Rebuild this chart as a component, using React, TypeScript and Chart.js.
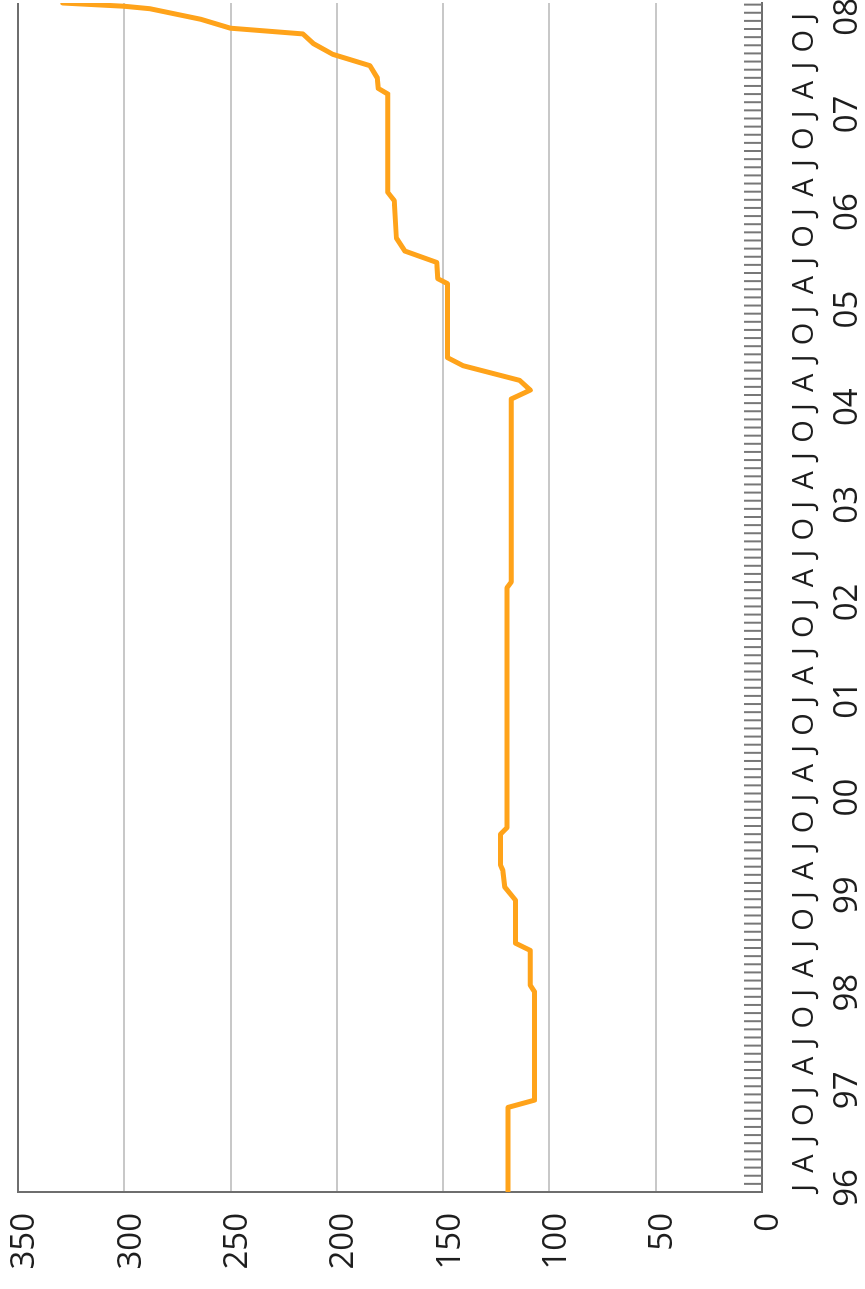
import { useEffect, useRef } from 'react';
import { Chart, registerables } from 'chart.js';

Chart.register(...registerables);

// Month index counted from January 1996 (0 = start of Jan 1996)
const months = [
  0, 10.4, 11.3, 24.6, 25.4, 29.7, 30.6, 35.9, 37.5, 39.6, 40.2, 44.0, 44.8,
  74.3, 75.0, 97.5, 98.6, 99.8, 101.6, 102.6, 111.7, 112.3, 114.3, 115.7,
  117.3, 121.9, 122.9, 135.0, 135.7, 137.0, 138.5, 139.9, 141.2, 142.4,
  143.1, 144.2, 145.5, 145.8, 146.2,
];
const values = [
  119.5, 119.5, 107, 107, 109, 109, 116, 116, 121, 122, 123, 123, 120,
  120, 118, 118, 109, 114, 140.6, 148, 148, 152.5, 153, 168,
  172, 173, 176, 176, 180.5, 181, 184.5, 202, 211, 216,
  250, 264, 288, 300, 329,
];
const yearLabels = ['96', '97', '98', '99', '00', '01', '02', '03', '04', '05', '06', '07', '08'];
const quarterLetters = ['J', 'A', 'J', 'O'];
const valueMin = 0;
const valueMax = 350;
const valueStep = 50;
const monthMax = 146.2;

const W = 1289;
const H = 865;

export default function App() {
  const ref = useRef<HTMLCanvasElement>(null);

  useEffect(() => {
    if (!ref.current) return;
    const timeAxisPlugin = {
      id: 'timeAxis',
      afterDraw(chart: any) {
        const { ctx, chartArea, scales } = chart;
        const xs = scales.x;
        ctx.save();
        ctx.strokeStyle = '#777777';
        ctx.lineWidth = 2;
        for (let m = 1; m <= xs.max; m++) {
          const px = xs.getPixelForValue(m);
          ctx.beginPath();
          ctx.moveTo(px, chartArea.bottom);
          ctx.lineTo(px, chartArea.bottom - 18);
          ctx.stroke();
        }
        ctx.fillStyle = '#1e1e1e';
        ctx.textAlign = 'center';
        ctx.textBaseline = 'alphabetic';
        yearLabels.forEach((yl, yi) => {
          quarterLetters.forEach((q, qi) => {
            const m = yi * 12 + qi * 3 + 0.5;
            if (m > xs.max) return;
            ctx.font = '29px "Open Sans"';
            ctx.fillText(q, xs.getPixelForValue(m), chartArea.bottom + 51);
          });
          const m = yi * 12 + 0.5;
          if (m <= xs.max) {
            ctx.font = '33px "Open Sans"';
            ctx.fillText(yl, xs.getPixelForValue(m), chartArea.bottom + 95);
          }
        });
        ctx.restore();
      },
    };

    const chart = new Chart(ref.current, {
      type: 'line',
      data: {
        datasets: [
          {
            data: months.map((m, i) => ({ x: m, y: values[i] })),
            borderColor: '#FFA31A',
            borderWidth: 5,
            pointRadius: 0,
            tension: 0,
            fill: false,
            borderJoinStyle: 'round',
            borderCapStyle: 'round',
          },
        ],
      },
      options: {
        animation: false,
        responsive: false,
        events: [],
        layout: { padding: { top: 18, right: 3, left: 0, bottom: 0 } },
        plugins: { legend: { display: false }, tooltip: { enabled: false } },
        scales: {
          x: {
            type: 'linear',
            min: 0,
            max: monthMax,
            ticks: { display: false },
            grid: { drawOnChartArea: false, drawTicks: false },
            border: { display: true, color: '#6e6e6e', width: 2 },
            afterFit(s: any) {
              s.height = 103;
              s.paddingLeft = 0;
              s.paddingRight = 0;
            },
          },
          y: {
            type: 'linear',
            min: valueMin,
            max: valueMax,
            ticks: {
              stepSize: valueStep,
              font: { family: '"Open Sans"', size: 33 },
              color: '#1e1e1e',
              padding: 21,
              labelOffset: 7,
            },
            grid: {
              drawTicks: false,
              lineWidth: 2,
              color: (c: any) =>
                c.tick && c.tick.value === valueMax
                  ? '#6e6e6e'
                  : c.tick && c.tick.value === valueMin
                  ? 'rgba(0,0,0,0)'
                  : '#c8c8c8',
            },
            border: { display: true, color: '#6e6e6e', width: 2 },
            afterFit(s: any) {
              s.width = 97;
              s.paddingTop = 0;
              s.paddingBottom = 0;
            },
          },
        },
      },
      plugins: [timeAxisPlugin],
    } as any);
    return () => chart.destroy();
  }, []);

  return (
    <div style={{ position: 'relative', width: H, height: W, overflow: 'hidden', background: '#fff' }}>
      <style>{'body{margin:0}'}</style>
      <div
        style={{
          position: 'absolute',
          left: 0,
          top: 0,
          width: W,
          height: H,
          transformOrigin: '0 0',
          transform: `translate(0px, ${W}px) rotate(-90deg)`,
        }}
      >
        <canvas ref={ref} width={W} height={H} style={{ display: 'block' }} />
      </div>
    </div>
  );
}
